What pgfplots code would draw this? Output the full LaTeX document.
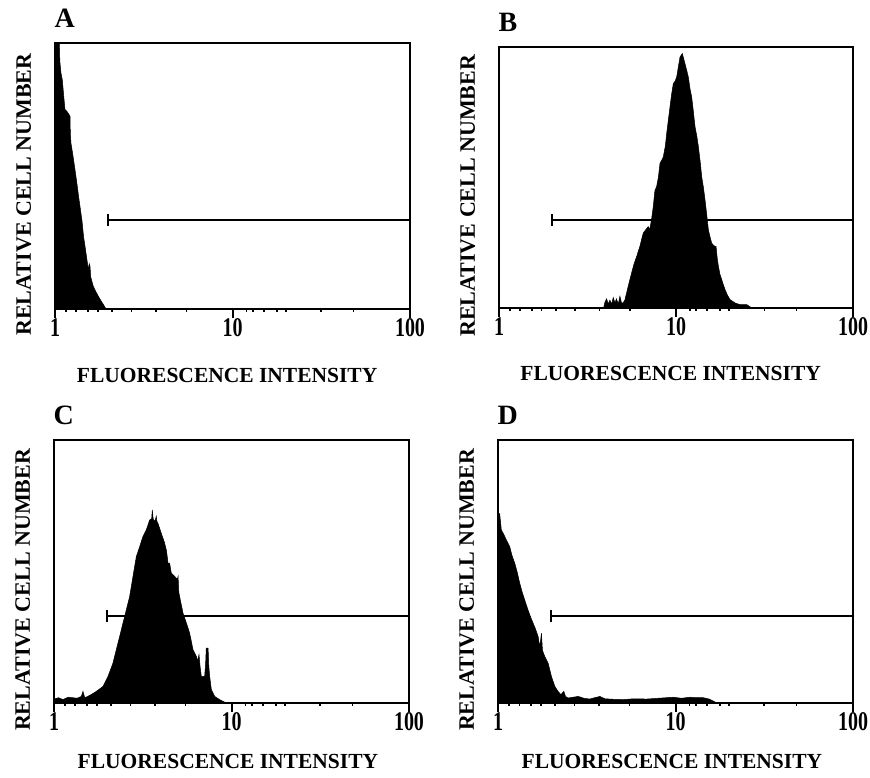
\documentclass[border=0pt]{standalone}
\usepackage{fontspec}
\setmainfont{Liberation Serif}
\usepackage{pgfplots}
\pgfplotsset{compat=1.18}

\pgfplotsset{
  panel/.style={
    scale only axis,
    xmin=1, xmax=100, ymin=0, ymax=1,
    separate axis lines,
    axis line style={line width=2.2pt, line cap=rect},
    ytick=\empty,
    xtick={1,10,100}, xticklabels={1,10,100},
    minor xtick={1.15,1.32,1.53,1.74,2.1,2.7,3.7,5.5,12,13,15,17.8,20,31.6,48},
    xtick pos=left,
    tick align=outside,
    major tick length=9pt, minor tick length=3pt,
    xtick style={line width=2pt, black},
    minor x tick style={line width=1.8pt, black},
    xticklabel style={font=\fontsize{27}{27}\selectfont\bfseries, xscale=0.74, yshift=3pt},
    xlabel={FLUORESCENCE INTENSITY},
    ylabel={RELATIVE CELL NUMBER},
    xlabel style={font=\fontsize{21.5}{21.5}\selectfont\bfseries, anchor=center},
    ylabel style={font=\fontsize{22}{22}\selectfont\bfseries, at={(axis description cs:-0.088,0.43)}, anchor=center},
    title style={font=\fontsize{28}{28}\selectfont\bfseries, at={(axis description cs:0,1)}, anchor=base west, yshift=9pt, xshift=-4pt},
  },
  toprow/.style={xlabel style={at={(axis description cs:0.485,-0.25)}}},
  botrow/.style={xlabel style={at={(axis description cs:0.49,-0.224)}}},
  histfill/.style={fill=black, draw=black, line width=0.5pt},
  gatebar/.style={black, line width=1.9pt},
}

\begin{document}
\begin{tikzpicture}
\useasboundingbox (0pt,0pt) rectangle (870pt,778pt);

% A
\begin{axis}[xmode=log, panel, toprow, at={(55pt,469pt)}, anchor=south west, width=355pt, height=266pt, title={A}]
\addplot [histfill] table {
1.0 0.0
1.0 1.0
1.058 1.0
1.065 0.93
1.081 0.887
1.10 0.86
1.12 0.80
1.138 0.75
1.16 0.745
1.19 0.735
1.215 0.724
1.22 0.66
1.23 0.624
1.26 0.58
1.296 0.524
1.33 0.47
1.36 0.42
1.383 0.386
1.42 0.33
1.45 0.27
1.476 0.236
1.51 0.19
1.541 0.148
1.56 0.17
1.575 0.16
1.59 0.12
1.62 0.10
1.644 0.085
1.70 0.065
1.754 0.048
1.82 0.03
1.88 0.015
1.938 0.0
} \closedcycle;
\addplot [gatebar] coordinates {(2,0.335) (100,0.335)};
\addplot [gatebar] coordinates {(2,0.312) (2,0.358)};
\end{axis}

% B
\begin{axis}[xmode=log, panel, toprow, at={(499pt,470pt)}, anchor=south west, width=354pt, height=261pt, title={B}]
\addplot [histfill] table {
3.9 0.0
3.96 0.02
4.05 0.035
4.15 0.015
4.23 0.03
4.33 0.015
4.42 0.04
4.52 0.02
4.61 0.035
4.72 0.015
4.82 0.045
4.92 0.02
5.03 0.02
5.14 0.03
5.37 0.083
5.61 0.134
5.8 0.17
5.99 0.197
6.25 0.236
6.53 0.287
6.75 0.30
6.97 0.312
7.1 0.30
7.28 0.34
7.44 0.389
7.6 0.45
7.77 0.465
7.95 0.50
8.12 0.554
8.30 0.566
8.48 0.579
8.7 0.62
8.86 0.669
9.05 0.72
9.25 0.771
9.45 0.82
9.66 0.86
9.9 0.87
10.09 0.885
10.31 0.924
10.54 0.962
10.86 0.975
11.05 0.955
11.24 0.936
11.5 0.91
11.74 0.885
12.0 0.84
12.26 0.809
12.5 0.76
12.81 0.694
13.1 0.66
13.38 0.618
13.7 0.56
13.97 0.503
14.3 0.46
14.59 0.414
14.9 0.36
15.24 0.299
15.6 0.27
15.92 0.248
16.3 0.24
16.63 0.236
16.84 0.236
17.1 0.19
17.37 0.159
17.7 0.13
18.14 0.108
18.5 0.09
18.94 0.070
19.5 0.05
20.2 0.032
21.6 0.019
23.0 0.013
25.1 0.013
26.8 0.0
} \closedcycle;
\addplot [gatebar] coordinates {(2,0.337) (100,0.337)};
\addplot [gatebar] coordinates {(2,0.314) (2,0.36)};
\end{axis}

% C
\begin{axis}[xmode=log, panel, botrow, at={(54pt,75pt)}, anchor=south west, width=355pt, height=263pt, title={C}]
\addplot [histfill] table {
1.0 0.0
1.0 0.015
1.06 0.02
1.124 0.013
1.2 0.022
1.28 0.02
1.35 0.018
1.426 0.025
1.456 0.044
1.49 0.02
1.55 0.025
1.62 0.032
1.73 0.044
1.888 0.063
2.015 0.101
2.15 0.152
2.244 0.203
2.344 0.253
2.447 0.304
2.556 0.354
2.668 0.405
2.786 0.481
2.91 0.557
3.04 0.595
3.17 0.633
3.31 0.658
3.46 0.696
3.55 0.70
3.58 0.734
3.62 0.70
3.70 0.69
3.77 0.71
3.80 0.69
3.85 0.684
4.02 0.646
4.20 0.608
4.30 0.58
4.39 0.532
4.48 0.532
4.58 0.494
4.79 0.481
4.95 0.47
5.0 0.481
5.05 0.42
5.1 0.405
5.33 0.342
5.57 0.304
5.81 0.266
6.07 0.203
6.34 0.177
6.45 0.16
6.56 0.184
6.65 0.14
6.76 0.101
7.06 0.101
7.15 0.15
7.21 0.209
7.38 0.209
7.45 0.14
7.54 0.10
7.70 0.051
8.04 0.025
8.57 0.013
9.35 0.0
} \closedcycle;
\addplot [gatebar] coordinates {(2,0.33) (100,0.33)};
\addplot [gatebar] coordinates {(2,0.307) (2,0.353)};
\end{axis}

% D
\begin{axis}[xmode=log, panel, botrow, at={(498pt,75pt)}, anchor=south west, width=355pt, height=263pt, title={D}]
\addplot [histfill] table {
1.0 0.0
1.0 0.72
1.022 0.72
1.044 0.658
1.08 0.64
1.114 0.62
1.164 0.595
1.2 0.56
1.242 0.532
1.28 0.50
1.325 0.456
1.37 0.42
1.414 0.392
1.476 0.354
1.52 0.33
1.576 0.304
1.63 0.28
1.682 0.253
1.718 0.215
1.74 0.24
1.757 0.266
1.78 0.20
1.834 0.177
1.915 0.152
2.0 0.101
2.09 0.063
2.18 0.044
2.26 0.032
2.35 0.044
2.40 0.025
2.48 0.019
2.65 0.022
2.83 0.025
3.05 0.018
3.29 0.015
3.5 0.02
3.75 0.025
4.0 0.016
4.5 0.014
5.08 0.013
5.8 0.016
6.88 0.015
8.0 0.018
9.72 0.022
10.8 0.018
12.08 0.022
13.2 0.02
14.36 0.02
15.5 0.015
17.1 0.0
} \closedcycle;
\addplot [gatebar] coordinates {(2,0.33) (100,0.33)};
\addplot [gatebar] coordinates {(2,0.307) (2,0.353)};
\end{axis}

\end{tikzpicture}
\end{document}
